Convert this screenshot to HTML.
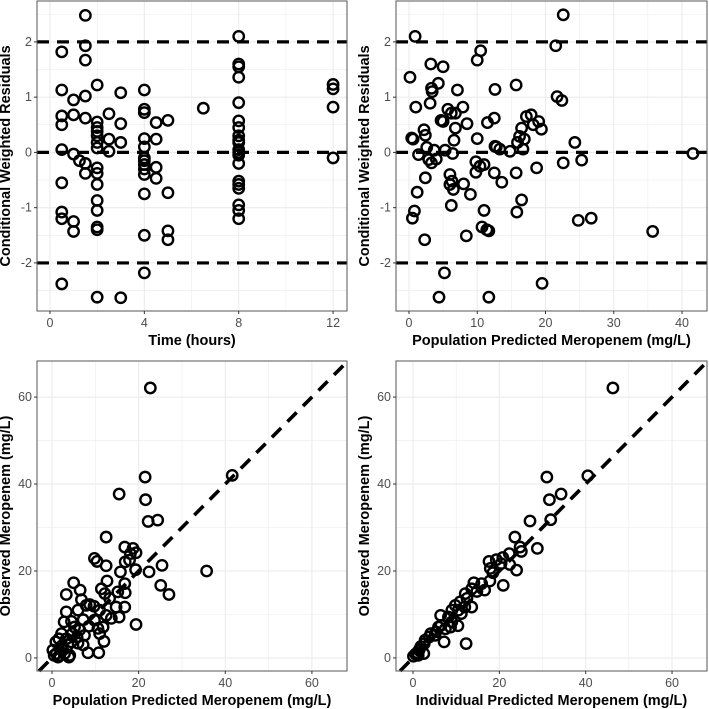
<!DOCTYPE html>
<html><head><meta charset="utf-8"><style>
body{margin:0;background:#fff;}
svg{display:block;font-family:"Liberation Sans",sans-serif;}
</style></head><body>
<svg id="c" width="709" height="709" viewBox="0 0 709 709"></svg>
<script>
const tlTime=[0.5,0.5,0.5,0.5,0.5,0.5,0.5,0.5,0.5,1,1,1,1,1,1.25,1.5,1.5,1.5,1.5,1.5,1.5,1.5,2,2,2,2,2,2,2,2,2,2,2,2,2,2,2,2.5,2.5,2.5,3,3,3,3,4,4,4,4,4,4,4,4,4,4,4,4,4,4.5,4.5,4.5,4.5,5,5,5,5,6.5,8,8,8,8,8,8,8,8,8,8,8,8,8,8,8,8,8,8,8,8,12,12,12,12];
const tlRes=[1.82,1.13,0.66,0.5,0.05,-0.55,-1.08,-1.2,-2.38,0.95,0.68,-0.03,-1.25,-1.43,-0.15,2.48,1.93,1.67,1.02,0.62,-0.2,-0.38,1.22,0.55,0.45,0.38,0.3,0.18,0.08,-0.28,-0.38,-0.58,-0.87,-1.05,-1.35,-1.4,-2.62,0.7,0.24,0.02,1.08,0.52,0.18,-2.63,1.13,0.78,0.72,0.25,0.1,-0.1,-0.15,-0.22,-0.3,-0.4,-0.75,-1.5,-2.18,0.54,0.24,-0.27,-0.47,0.58,-0.73,-1.42,-1.58,0.8,2.1,1.6,1.55,1.36,0.9,0.57,0.45,0.3,0.22,0.18,0.05,0,-0.05,-0.2,-0.52,-0.58,-0.65,-0.95,-1.05,-1.2,1.23,1.15,0.82,-0.1];
const trPred=[0.15,0.9,0.4,0.6,1.0,1.4,1.2,0.8,0.5,2.2,2.4,2.6,2.4,2.3,3.2,3.3,3.4,3.1,2.9,3.3,3.7,4.0,4.3,5.0,4.7,5.0,5.3,4.4,5.2,5.7,6.2,6.8,6.8,6.6,6.4,6.0,6.0,6.5,6.3,6.2,7.1,7.9,8.5,8.0,9.0,8.4,10.0,10.5,10.0,9.8,9.8,10.4,11.0,11.0,10.7,11.4,11.7,11.5,12.5,12.6,12.5,12.6,12.8,13.3,13.6,11.7,14.8,15.7,15.7,15.8,15.9,16.2,16.5,16.9,16.7,16.5,17.2,17.9,18.2,19.0,19.4,18.7,19.5,21.5,21.7,22.4,22.6,22.6,24.3,25.3,24.8,26.7,35.7,41.6];
const trRes=[1.36,2.1,0.26,0.24,0.82,-0.04,-0.72,-1.06,-1.19,0.41,0.31,0.09,-0.46,-1.58,1.6,1.16,1.1,0.89,-0.13,-0.19,0.04,-0.12,1.25,1.55,0.58,0.56,0.04,-2.62,-2.18,0.78,0.71,0.71,0.44,0.22,-0.02,-0.4,-0.58,-0.67,-0.52,-0.96,1.13,0.82,0.52,-0.57,-0.76,-1.51,1.67,1.84,0.25,-0.17,-0.36,-0.25,-0.22,-1.05,-1.35,-1.4,-1.42,0.54,0.62,1.14,-0.37,0.11,0.1,0.06,-0.54,-2.62,0.02,1.22,-0.37,-1.08,0.18,0.29,0.44,0.24,0.06,-0.86,0.65,0.68,0.5,0.56,0.42,-0.28,-2.37,1.93,1.01,0.94,2.49,-0.19,0.18,-0.14,-1.23,-1.19,-1.43,-0.02];
const blPred=[22.7,41.6,21.5,15.5,21.6,22.2,24.4,12.5,16.8,18.7,18.1,19.4,9.8,10.4,12.5,16.9,17.9,19.3,22.4,25.4,35.7,15.8,16.8,12.7,5.0,25.1,27.0,6.5,11.4,12.2,15.2,16.9,3.3,6.8,13.3,7.9,8.7,9.7,14.8,16.8,11.0,3.3,6.0,4.5,2.8,7.2,9.8,12.5,13.7,15.5,19.4,5.2,6.4,8.5,10.6,11.8,11.0,12.0,4.7,5.8,7.5,2.2,1.6,3.3,0.9,4.5,8.3,10.8,0.2,1.0,1.8,2.5,4.1,0.5,1.4,2.9,3.9,2.3,3.7,6.0,7.2];
const blObs=[62.1,42.0,41.6,37.7,36.4,31.4,31.7,27.8,25.5,25.2,24.0,24.2,22.9,22.2,21.2,22.1,22.5,20.3,19.8,21.3,20.0,19.8,17.1,17.7,17.3,16.7,14.6,15.6,15.9,14.8,15.2,15.0,14.6,13.4,13.7,12.1,12.3,11.9,11.7,11.7,11.0,10.6,11.0,8.4,8.3,8.8,8.7,9.8,9.1,9.4,7.7,7.1,6.5,7.3,6.8,7.1,5.6,3.8,5.6,4.8,5.2,5.6,4.4,4.4,3.7,3.7,1.2,1.2,1.8,1.0,0.6,1.8,0.6,0.6,0.2,1.0,0.2,2.8,3.0,3.4,3.0];
const brPred=[46.3,31.0,40.5,31.6,34.3,31.9,27.1,23.6,24.8,25.1,28.8,22.3,20.8,19.3,17.6,20.4,22.4,24.0,17.9,18.5,20.9,14.1,15.9,17.8,13.6,14.8,16.6,12.1,12.5,10.9,13.6,9.8,10.5,9.0,6.4,8.2,9.0,6.5,8.7,10.4,7.2,12.3,5.9,5.3,4.1,3.7,2.8,2.6,1.8,1.4,1.0,0.6,0.1,2.5,1.2,5.1,7.5,11.2,12.0];
const brObs=[62.1,41.6,41.9,36.4,37.7,31.8,31.5,27.8,25.5,24.5,25.2,24.0,23.1,22.6,22.2,21.7,21.5,20.2,20.6,19.6,16.7,17.3,17.1,17.7,15.9,15.3,15.6,14.8,13.7,12.9,11.7,12.1,11.0,11.0,9.8,9.4,8.3,7.5,7.1,7.4,3.7,3.3,7.1,6.0,5.6,4.8,4.1,3.3,2.6,1.8,1.2,0.9,0.4,1.0,0.6,5.2,6.7,10.2,11.7];
const resTicks=[-2,-1,0,1,2], obsTicks=[0,20,40,60];
const svg=document.getElementById('c');const NS='http://www.w3.org/2000/svg';
function mk(t,a,p,name){const e=document.createElementNS(NS,t);for(const k in a)e.setAttribute(k,a[k]);


(p||svg).appendChild(e);return e;}
function panel(o){
const g=mk('g',{},svg,o.name);
const sx=v=>o.x0+(v-o.xd[0])/(o.xd[1]-o.xd[0])*(o.x1-o.x0);
const sy=v=>o.y1-(v-o.yd[0])/(o.yd[1]-o.yd[0])*(o.y1-o.y0);
mk('rect',{x:o.x0,y:o.y0,width:o.x1-o.x0,height:o.y1-o.y0,fill:'#fff'},g,'plot-background');
const cx=(x,n)=>mk('line',{x1:sx(x),x2:sx(x),y1:o.y0,y2:o.y1,stroke:'#ebebeb','stroke-width':n},g,'x-gridline');
const cy=(y,n)=>mk('line',{y1:sy(y),y2:sy(y),x1:o.x0,x2:o.x1,stroke:'#ebebeb','stroke-width':n},g,'y-gridline');
const st=o.xt[1]-o.xt[0];
for(let v=o.xt[0]-st/2;v<=o.xd[1];v+=st/2){if(v<o.xd[0])continue;cx(v,Math.abs((v-o.xt[0])/st%1)<1e-6?1.1:0.55);}
const sty=o.yt[1]-o.yt[0];
for(let v=o.yt[0]-sty/2;v<=o.yd[1];v+=sty/2){if(v<o.yd[0])continue;cy(v,Math.abs((v-o.yt[0])/sty%1)<1e-6?1.1:0.55);}
const dash={stroke:'#000','stroke-width':3.2,'stroke-dasharray':'12,8',fill:'none'};
if(o.hl)o.hl.forEach(h=>mk('line',Object.assign({x1:o.x0,x2:o.x1,y1:sy(h),y2:sy(h)},dash),g,'reference-line'));
if(o.diag){const a=Math.max(o.xd[0],o.yd[0]),b=Math.min(o.xd[1],o.yd[1]);mk('line',Object.assign({x1:sx(a),y1:sy(a),x2:sx(b),y2:sy(b)},dash,{'stroke-width':3.6,'stroke-dasharray':'13,9'}),g,'identity-line');}
o.xs.forEach((x,i)=>mk('circle',{cx:sx(x),cy:sy(o.ys[i]),r:5.2,fill:'none',stroke:'#000','stroke-width':2.4},g,'data-point'));
mk('rect',{x:o.x0,y:o.y0,width:o.x1-o.x0,height:o.y1-o.y0,fill:'none',stroke:'#555','stroke-width':1},g,'panel-border');
o.xt.forEach(v=>{mk('line',{x1:sx(v),x2:sx(v),y1:o.y1,y2:o.y1+3,stroke:'#333'},g,'x-tick');
const t=mk('text',{x:sx(v),y:o.y1+16,'text-anchor':'middle','font-size':12.5,fill:'#4d4d4d'},g,'x-tick-label');t.textContent=v;});
o.yt.forEach(v=>{mk('line',{x1:o.x0-3,x2:o.x0,y1:sy(v),y2:sy(v),stroke:'#333'},g,'y-tick');
const t=mk('text',{x:o.x0-5,y:sy(v)+4,'text-anchor':'end','font-size':12.5,fill:'#4d4d4d'},g,'y-tick-label');t.textContent=v;});
const xt=mk('text',{x:(o.x0+o.x1)/2,y:o.y1+34,'text-anchor':'middle','font-size':14.5,'font-weight':'bold'},g,'x-axis-title');xt.textContent=o.xl;
const yc=(o.y0+o.y1)/2,yx=o.x0-27;
const yt=mk('text',{x:yx,y:yc,'text-anchor':'middle','font-size':14.5,'font-weight':'bold',transform:`rotate(-90 ${yx} ${yc})`},g,'y-axis-title');yt.textContent=o.yl;
}
panel({name:'cwres-vs-time-panel',x0:37,x1:347,y0:1,y1:311,xd:[-0.55,12.59],yd:[-2.87,2.74],xt:[0,4,8,12],yt:resTicks,hl:[-2,0,2],xs:tlTime,ys:tlRes,xl:'Time (hours)',yl:'Conditional Weighted Residuals'});
panel({name:'cwres-vs-pred-panel',x0:396,x1:707,y0:1,y1:311,xd:[-1.9,43.66],yd:[-2.87,2.74],xt:[0,10,20,30,40],yt:resTicks,hl:[-2,0,2],xs:trPred,ys:trRes,xl:'Population Predicted Meropenem (mg/L)',yl:'Conditional Weighted Residuals'});
panel({name:'obs-vs-pred-panel',x0:37,x1:347,y0:361,y1:671,xd:[-3.46,68.1],yd:[-3.0,68.3],xt:[0,20,40,60],yt:obsTicks,diag:true,xs:blPred,ys:blObs,xl:'Population Predicted Meropenem (mg/L)',yl:'Observed Meropenem (mg/L)'});
panel({name:'obs-vs-ipred-panel',x0:396,x1:707,y0:361,y1:671,xd:[-3.94,68.1],yd:[-3.0,68.3],xt:[0,20,40,60],yt:obsTicks,diag:true,xs:brPred,ys:brObs,xl:'Individual Predicted Meropenem (mg/L)',yl:'Observed Meropenem (mg/L)'});
</script>
</body></html>
